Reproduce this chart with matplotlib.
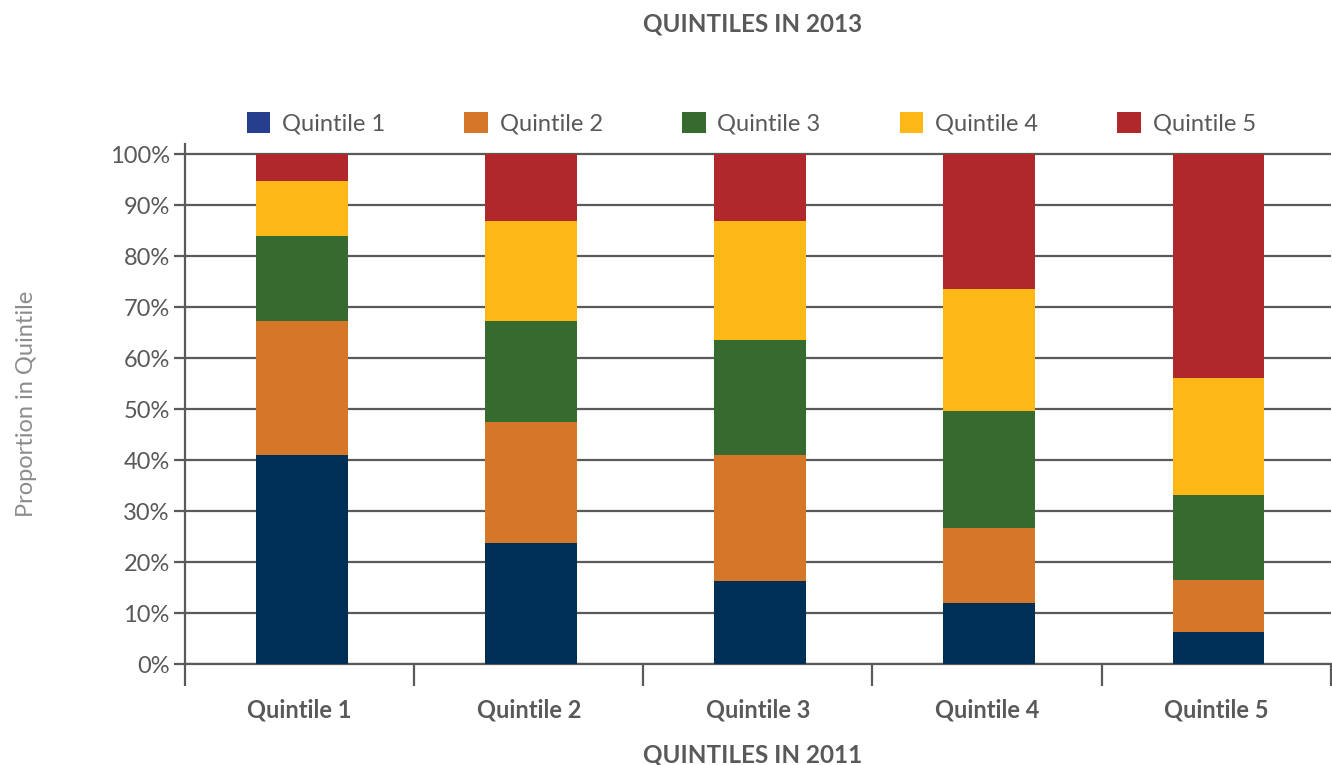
import matplotlib.pyplot as plt
from matplotlib.patches import Patch
import numpy as np

plt.rcParams['font.family'] = ['Lato', 'DejaVu Sans']

# share of each 2011 quintile ending up in each 2013 quintile (%)
groups_2011 = ['Quintile 1', 'Quintile 2', 'Quintile 3', 'Quintile 4', 'Quintile 5']
to_q1 = [41.0, 23.7, 16.3, 12.0, 6.2]
to_q2 = [26.3, 23.8, 24.7, 14.7, 10.2]
to_q3 = [16.6, 19.8, 22.5, 22.9, 16.8]
to_q4 = [10.8, 19.6, 23.4, 23.9, 22.9]
to_q5 = [5.3, 13.1, 13.1, 26.5, 43.9]
series_names = ['Quintile 1', 'Quintile 2', 'Quintile 3', 'Quintile 4', 'Quintile 5']
yticks = [0, 10, 20, 30, 40, 50, 60, 70, 80, 90, 100]

bar_colors = ['#002f56', '#d57628', '#376a2e', '#fbb817', '#b0282c']
key_colors = ['#253f8e', '#d57628', '#376a2e', '#fbb817', '#b0282c']
grey = '#5a5a5a'
txt = '#595959'

fig = plt.figure(figsize=(13.32, 7.65), dpi=100)
ax = fig.add_axes([0.139, 0.132, 0.86, 0.68])

x = np.arange(len(groups_2011))
bottom = np.zeros(len(groups_2011))
for vals, c in zip([to_q1, to_q2, to_q3, to_q4, to_q5], bar_colors):
    ax.bar(x + 0.01, vals, bottom=bottom, width=0.4, color=c, zorder=3)
    bottom += np.array(vals)

ax.set_xlim(-0.5, 4.5)
ax.set_ylim(0, 102)
ax.set_yticks(yticks)
ax.set_yticklabels([f'{v}%' for v in yticks], fontsize=17, color=txt)
ax.yaxis.grid(True, color=grey, linewidth=1.6, zorder=0)
ax.tick_params(axis='y', length=8, width=1.6, color=grey, pad=3)

# category boundaries get the tick marks, names sit between them
ax.set_xticks(np.arange(-0.5, 5, 1))
ax.set_xticklabels([])
ax.set_xticks(x, minor=True)
ax.set_xticklabels(groups_2011, minor=True, fontsize=17, fontweight='bold', color=txt)
ax.tick_params(axis='x', which='major', length=16, width=1.6, color=grey)
ax.tick_params(axis='x', which='minor', length=0, pad=25)

for s in ['top', 'right']:
    ax.spines[s].set_visible(False)
for s in ['left', 'bottom']:
    ax.spines[s].set_color(grey)
    ax.spines[s].set_linewidth(1.6)

ax.set_ylabel('Proportion in Quintile', fontsize=17, color='#8c8c8c')
ax.yaxis.set_label_coords(-0.129, 0.5)

handles = [Patch(facecolor=c, edgecolor='none') for c in key_colors]
fig.legend(handles, series_names, loc='center', bbox_to_anchor=(0.564, 0.839), ncol=5,
           frameon=False, fontsize=17, labelcolor=txt, handlelength=1.0, handleheight=1.0,
           handletextpad=0.5, columnspacing=3.35)

fig.text(0.565, 0.969, 'QUINTILES IN 2013', ha='center', va='center',
         fontsize=17.5, fontweight='bold', color=txt)
fig.text(0.565, 0.013, 'QUINTILES IN 2011', ha='center', va='center',
         fontsize=17.5, fontweight='bold', color=txt)

fig.savefig('out.png', dpi=100)
